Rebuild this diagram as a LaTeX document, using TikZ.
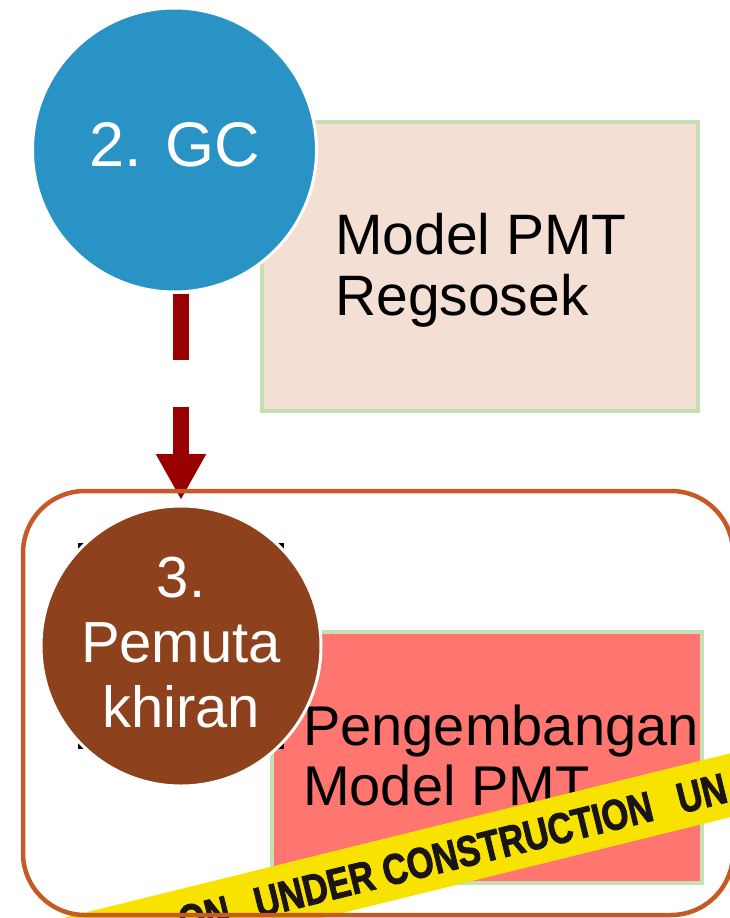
\documentclass[tikz,border=0pt]{standalone}
\usepackage{fontspec}
\setmainfont{Liberation Sans}
\newfontfamily\tapefont[FakeBold=2.2]{Liberation Sans Bold}
\usetikzlibrary{arrows.meta}

\definecolor{gcblue}{HTML}{2A93C5}
\definecolor{pmbrown}{HTML}{8E411D}
\definecolor{boxpink}{HTML}{F4DFD5}
\definecolor{boxred}{HTML}{FF7670}
\definecolor{boxgreen}{HTML}{C6E0B4}
\definecolor{phaseorange}{HTML}{C55A26}
\definecolor{arrowred}{HTML}{990000}
\definecolor{tapeyellow}{HTML}{F8E200}
\definecolor{tapeink}{HTML}{1A1414}

\begin{document}
\begin{tikzpicture}[x=1pt,y=-1pt,
  stage/.style={circle, draw=white, line width=3pt, inner sep=0pt,
    text=white, align=center},
  modelbox/.style={draw=boxgreen, line width=4pt, inner sep=0pt},
  boxtext/.style={anchor=base west, inner sep=0pt, align=left, text=black},
  flowarrow/.style={draw=arrowred, line width=16.6pt,
    dash pattern=on 66pt off 47pt,
    -{Triangle[width=47pt,length=46pt]}, shorten >=4.5pt},
  phasebox/.style={draw=phaseorange, line width=4.5pt, rounded corners=62pt,
    inner sep=0pt},
]
\useasboundingbox (0,0) rectangle (730,918);

% upper step: PMT model box and GC circle
\node[modelbox, fill=boxpink, minimum width=436pt, minimum height=289pt]
  (regbox) at (480,266.5) {};
% base anchor of a two-line node sits on the last line
\node[boxtext, font=\fontsize{57}{61}\selectfont] (regtext) at (335,315)
  {Model PMT\\Regsosek};
\node[stage, fill=gcblue, minimum size=284pt, text depth=10pt,
  font=\fontsize{63}{70}\selectfont] (gc) at (174.5,150) {2. GC};

% lower step: development box and ordering circle
\node[modelbox, fill=boxred, minimum width=430pt, minimum height=251pt]
  (devbox) at (487,757.5) {};
\node[boxtext, font=\fontsize{56}{60}\selectfont] (devtext) at (303,805)
  {Pengembangan\\Model PMT};
\draw[black, line width=2.5pt] (79.5,544.5) rectangle (282.5,747.5);
\node[stage, fill=pmbrown, minimum size=280pt,
  font=\fontsize{58}{65}\selectfont] (pm) at (181,646)
  {3.\\Pemuta\\khiran\rule[-8pt]{0pt}{8pt}};

% dashed flow arrow between the steps
\draw[flowarrow] (gc.south -| pm.north) -- (pm.north);

% construction tape across the lower box
\begin{scope}
  \clip (0,0) rectangle (730,918);
  \begin{scope}[shift={(140,931)}, rotate=13.87]
    \fill[tapeyellow] (-120,-31) rectangle (720,31);
    \node[anchor=west, inner sep=0pt, rotate=13.87, text=tapeink,
      font=\fontsize{43}{43}\tapefont] (tapetext) at (40,1)
      {\scalebox{0.8}[1]{ON\hspace{33pt}UNDER CONSTRUCTION\hspace{33pt}UN}};
  \end{scope}
\end{scope}

% frame around the lower step
\node[phasebox, minimum width=710pt, minimum height=424pt] (phase)
  at (378,703) {};
\end{tikzpicture}
\end{document}
